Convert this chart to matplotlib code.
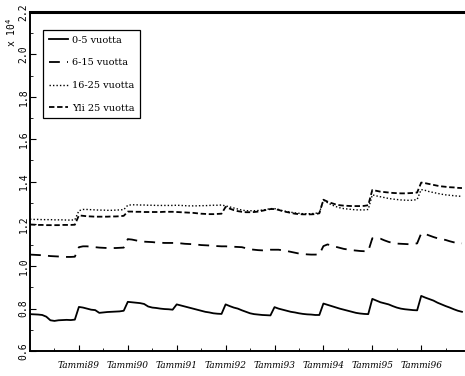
import numpy as np
import matplotlib
matplotlib.use("Agg")
import matplotlib.pyplot as plt

# monthly values, Jan 1988 .. Nov 1996, in units of 10^4
age_0_5 = [0.774, 0.773, 0.772, 0.770, 0.762, 0.745, 0.742, 0.745, 0.746, 0.747, 0.746, 0.748,
           0.808, 0.805, 0.800, 0.795, 0.793, 0.780, 0.782, 0.784, 0.785, 0.786, 0.787, 0.790,
           0.832, 0.830, 0.828, 0.826, 0.822, 0.810, 0.805, 0.803, 0.800, 0.798, 0.797, 0.795,
           0.820, 0.815, 0.810, 0.805, 0.800, 0.795, 0.790, 0.785, 0.782, 0.778, 0.776, 0.775,
           0.820, 0.812, 0.805, 0.800, 0.792, 0.785, 0.778, 0.774, 0.772, 0.770, 0.769, 0.768,
           0.807, 0.800, 0.795, 0.790, 0.785, 0.782, 0.778, 0.775, 0.773, 0.772, 0.770, 0.770,
           0.824, 0.818, 0.812, 0.806, 0.800, 0.795, 0.790, 0.785, 0.780, 0.777, 0.775, 0.774,
           0.846, 0.838, 0.830, 0.825, 0.820, 0.812, 0.805, 0.800, 0.797, 0.795, 0.793, 0.792,
           0.860, 0.852, 0.845, 0.838, 0.828, 0.820, 0.812, 0.805, 0.797, 0.790, 0.785]

age_6_15 = [1.055, 1.054, 1.053, 1.052, 1.050, 1.048, 1.047, 1.046, 1.045, 1.044, 1.044, 1.045,
            1.090, 1.094, 1.094, 1.092, 1.090, 1.088, 1.087, 1.086, 1.086, 1.086, 1.087, 1.088,
            1.128, 1.126, 1.122, 1.118, 1.116, 1.115, 1.114, 1.112, 1.111, 1.110, 1.110, 1.110,
            1.110, 1.108, 1.106, 1.105, 1.104, 1.102, 1.100, 1.099, 1.098, 1.096, 1.095, 1.094,
            1.094, 1.093, 1.092, 1.091, 1.090, 1.085, 1.080, 1.078, 1.076, 1.075, 1.076, 1.078,
            1.078, 1.078, 1.075, 1.072, 1.068, 1.064, 1.060, 1.058, 1.056, 1.055, 1.055, 1.056,
            1.095, 1.103, 1.098, 1.092, 1.087, 1.082, 1.079, 1.076, 1.074, 1.072, 1.071, 1.071,
            1.132, 1.132, 1.130, 1.122, 1.115, 1.110, 1.107, 1.106, 1.105, 1.104, 1.105, 1.108,
            1.155, 1.152, 1.145, 1.138, 1.132, 1.128, 1.124, 1.118, 1.113, 1.110, 1.108]

age_16_25 = [1.222, 1.221, 1.221, 1.220, 1.220, 1.220, 1.219, 1.219, 1.219, 1.218, 1.218, 1.219,
             1.262, 1.268, 1.268, 1.267, 1.266, 1.265, 1.265, 1.264, 1.264, 1.265, 1.266, 1.267,
             1.288, 1.290, 1.290, 1.289, 1.289, 1.288, 1.288, 1.287, 1.287, 1.287, 1.287, 1.287,
             1.288, 1.287, 1.286, 1.285, 1.285, 1.285, 1.286, 1.286, 1.287, 1.288, 1.288, 1.289,
             1.285, 1.280, 1.275, 1.270, 1.265, 1.262, 1.262, 1.262, 1.263, 1.265, 1.268, 1.272,
             1.272, 1.268, 1.262, 1.258, 1.255, 1.252, 1.250, 1.248, 1.248, 1.248, 1.250, 1.252,
             1.312, 1.300, 1.290, 1.282, 1.276, 1.272, 1.270, 1.268, 1.266, 1.266, 1.266, 1.268,
             1.337, 1.332, 1.328, 1.324, 1.320, 1.317, 1.315, 1.313, 1.312, 1.311, 1.312, 1.315,
             1.362, 1.358, 1.352, 1.348, 1.344, 1.340, 1.337, 1.335, 1.333, 1.331, 1.330]

age_over_25 = [1.197, 1.196, 1.195, 1.195, 1.194, 1.194, 1.194, 1.194, 1.195, 1.195, 1.195, 1.196,
               1.240, 1.238, 1.236, 1.235, 1.234, 1.234, 1.234, 1.234, 1.235, 1.235, 1.236, 1.238,
               1.258, 1.258, 1.257, 1.257, 1.256, 1.256, 1.256, 1.256, 1.256, 1.257, 1.257, 1.257,
               1.256, 1.255, 1.254, 1.253, 1.252, 1.250, 1.248, 1.247, 1.246, 1.246, 1.247, 1.248,
               1.280, 1.272, 1.265, 1.260, 1.257, 1.255, 1.255, 1.256, 1.258, 1.262, 1.266, 1.270,
               1.270, 1.266, 1.260, 1.256, 1.252, 1.248, 1.246, 1.245, 1.245, 1.245, 1.246, 1.250,
               1.314, 1.305, 1.298, 1.292, 1.288, 1.286, 1.285, 1.284, 1.284, 1.284, 1.285, 1.288,
               1.360, 1.356, 1.352, 1.350, 1.348, 1.346, 1.345, 1.344, 1.344, 1.345, 1.346, 1.348,
               1.395, 1.392, 1.388, 1.384, 1.380, 1.377, 1.375, 1.373, 1.372, 1.370, 1.369]

labels = ["0-5 vuotta", "6-15 vuotta", "16-25 vuotta", "Yli 25 vuotta"]
tick_labels = ["Tammi89", "Tammi90", "Tammi91", "Tammi92",
               "Tammi93", "Tammi94", "Tammi95", "Tammi96"]
tick_pos = [12, 24, 36, 48, 60, 72, 84, 96]
y_ticks = [0.6, 0.8, 1.0, 1.2, 1.4, 1.6, 1.8, 2.0, 2.2]

months = np.arange(len(age_0_5))

fig = plt.figure(figsize=(4.65, 3.76), dpi=100)
ax = fig.add_axes([30 / 465, 25 / 376, 434 / 465, 339 / 376])

lw = 1.3
ax.plot(months, age_0_5, color='black', lw=lw, ls='-', label=labels[0])
ax.plot(months, age_6_15, color='black', lw=lw, ls=(0, (6, 4)), label=labels[1])
ax.plot(months, age_16_25, color='black', lw=1.0, ls=(0, (1, 1.5)), label=labels[2])
ax.plot(months, age_over_25, color='black', lw=lw, ls=(0, (3, 1.5)), label=labels[3])

ax.set_xlim(0, len(age_0_5) - 0.5)
ax.set_ylim(0.6, 2.2)

ax.set_xticks(tick_pos)
ax.set_xticklabels(tick_labels, family='DejaVu Serif', fontsize=6.5, style='italic')
ax.set_xticks(np.arange(6, 106, 6), minor=True)
ax.set_yticks(y_ticks)
ax.set_yticklabels([f"{v:.1f}" for v in y_ticks], rotation=90, va='center',
                   family='DejaVu Sans Mono', fontsize=7)
ax.set_yticks(np.arange(0.7, 2.2, 0.2), minor=True)
ax.tick_params(direction='in', length=4, width=0.8)
ax.tick_params(axis='x', pad=7)
ax.tick_params(axis='y', pad=1)
ax.tick_params(which='minor', direction='in', length=2, width=0.6)

ax.spines['right'].set_visible(False)
ax.spines['top'].set_linewidth(2.2)
ax.spines['left'].set_linewidth(1.4)
ax.spines['bottom'].set_linewidth(1.4)

fig.text(11 / 465, 1 - 32 / 376, "x 10$^4$", rotation=90, ha='center', va='center',
         family='DejaVu Sans Mono', fontsize=7)

leg = ax.legend(loc='upper left', bbox_to_anchor=(0.03, 0.947), borderaxespad=0,
                fancybox=False, edgecolor='black', framealpha=1,
                prop={'family': 'DejaVu Serif', 'size': 7},
                handlelength=2.0, labelspacing=1.4, handletextpad=0.35, borderpad=0.6)
leg.get_frame().set_linewidth(0.9)

fig.savefig("out.png", dpi=100)
